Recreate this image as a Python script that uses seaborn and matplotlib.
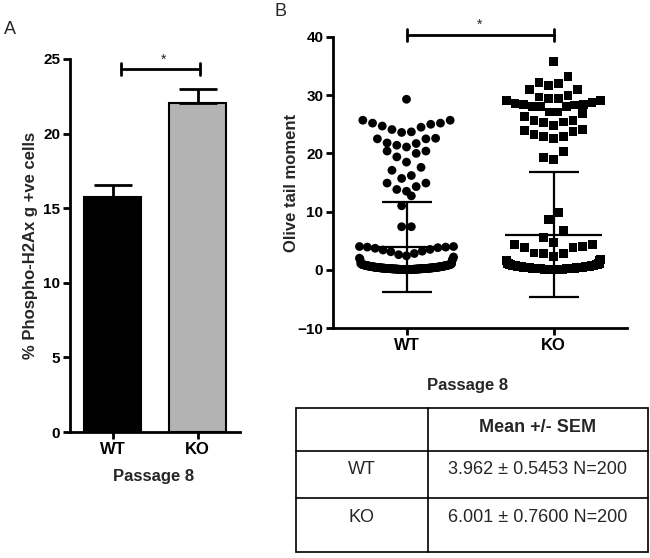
import warnings
import numpy as np
import pandas as pd
import matplotlib
matplotlib.use("Agg")
import matplotlib.pyplot as plt
import seaborn as sns

warnings.filterwarnings("ignore")

groups = ["WT", "KO"]

# panel A: % phospho-H2Ax positive cells (mean, upper error)
h2ax_mean = [15.75, 22.05]
h2ax_err = [0.78, 0.92]

# panel B: olive tail moment, individual cells
wt_high = [29.3, 25.7, 25.2, 24.7, 24.1, 23.6, 23.7, 24.5, 25.0, 25.2, 25.7,
           22.5, 21.8, 21.4, 21.1, 21.7, 22.5, 22.6, 20.4, 20.0, 18.5, 19.4,
           20.4, 17.6, 17.1, 16.2, 15.7, 14.9, 14.3, 13.5, 13.8, 14.9, 12.7,
           11.0, 7.4, 7.4]
wt_mid = [4.0, 3.9, 3.7, 3.4, 3.1, 3.2, 3.5, 3.8, 3.9, 4.0,
          2.8, 2.6, 2.4, 2.2, 2.0, 1.9, 1.8, 1.7]
wt_band = [
    0.01, 0.02, 0.02, 0.03, 0.04, 0.05, 0.05, 0.06, 0.07, 0.08, 0.08, 0.09, 0.10, 0.11, 0.12,
    0.12, 0.13, 0.14, 0.15, 0.16, 0.16, 0.17, 0.18, 0.19, 0.20, 0.21, 0.22, 0.22, 0.23, 0.24,
    0.25, 0.27, 0.28, 0.30, 0.31, 0.33, 0.34, 0.35, 0.37, 0.38, 0.40, 0.41, 0.43, 0.44, 0.46,
    0.47, 0.48, 0.50, 0.51, 0.53, 0.55, 0.56, 0.58, 0.59, 0.61, 0.62, 0.64, 0.66, 0.67, 0.69,
    0.70, 0.72, 0.74, 0.75, 0.77, 0.79, 0.81, 0.83, 0.85, 0.87, 0.89, 0.91, 0.94, 0.97, 1.00,
    0.03, 0.06, 0.09, 0.11, 0.14, 0.17, 0.19, 0.21, 0.24, 0.26, 0.29, 0.32, 0.36, 0.39, 0.42,
    0.04, 0.07, 0.10, 0.13, 0.15, 0.18, 0.20, 0.23, 0.27, 0.30, 0.34, 0.38, 0.45, 0.52, 0.60,
    0.02, 0.05, 0.08, 0.12, 0.16, 0.19, 0.22, 0.25, 0.28, 0.33, 0.40, 0.49, 0.57, 0.68, 0.80,
    0.01, 0.04, 0.07, 0.11, 0.14, 0.18, 0.21, 0.26, 0.31, 0.37, 0.44, 0.54, 0.65, 0.78, 0.92,
    0.03, 0.09, 0.15, 0.20, 0.28, 0.36, 0.47, 0.63, 0.84, 1.05, 1.10,
]
ko_high = [35.8, 33.2, 32.2, 31.7, 32.0, 31.0, 31.0, 30.0, 29.7, 29.4, 29.1,
           29.1, 29.4, 28.7, 28.4, 28.3, 28.0, 27.1, 26.8, 27.1, 28.0, 28.0,
           28.4, 28.6, 26.3, 25.6, 25.3, 24.8, 25.4, 25.6, 24.1, 23.8, 22.9,
           22.5, 22.9, 23.3, 24.0, 20.3, 19.3, 18.9]
ko_mid = [9.9, 8.7, 6.7, 5.5, 4.7, 4.4, 4.3, 4.0, 3.8, 3.8, 2.9, 2.8, 2.8,
          2.3, 1.8, 1.6, 1.6]
ko_band = [
    0.01, 0.02, 0.03, 0.04, 0.05, 0.06, 0.07, 0.08, 0.09, 0.10, 0.11, 0.12, 0.13, 0.14, 0.15,
    0.16, 0.17, 0.19, 0.20, 0.21, 0.23, 0.24, 0.25, 0.27, 0.28, 0.29, 0.31, 0.32, 0.34, 0.35,
    0.36, 0.38, 0.39, 0.41, 0.42, 0.44, 0.45, 0.47, 0.49, 0.50, 0.52, 0.54, 0.56, 0.57, 0.59,
    0.61, 0.63, 0.65, 0.67, 0.69, 0.71, 0.73, 0.76, 0.78, 0.81, 0.84, 0.87, 0.90, 0.94, 0.98,
    0.02, 0.05, 0.08, 0.11, 0.14, 0.18, 0.22, 0.26, 0.30, 0.35, 0.40, 0.46, 0.53, 0.62, 0.72,
    0.03, 0.06, 0.10, 0.13, 0.17, 0.21, 0.25, 0.30, 0.36, 0.43, 0.51, 0.60, 0.70, 0.83, 1.02,
    0.01, 0.04, 0.07, 0.12, 0.16, 0.20, 0.24, 0.29, 0.34, 0.40, 0.48, 0.58, 0.68, 0.80, 1.08,
    0.02, 0.06, 0.09, 0.13, 0.18, 0.23, 0.28, 0.33, 0.39, 0.46, 0.55, 0.66, 0.79, 0.95, 1.12,
    0.04, 0.08, 0.15, 0.22, 0.31, 0.44, 0.64, 0.88,
    0.03, 0.07, 0.11, 0.15, 0.19, 0.26, 0.33, 0.41, 0.50, 0.61, 0.74, 0.86, 0.97, 1.06, 1.15,
]

# summary table
tail_mean = [3.962, 6.001]
tail_sem = [0.5453, 0.7600]
tail_n = [200, 200]


def row_offsets(values, bin_h=2.2, step=0.066, half=0.32):
    # Prism-like scatter layout: points of similar value share a row,
    # lowest in the middle, spread outward, squeezed when the row is full
    vals = np.asarray(values, float)
    order = np.argsort(vals, kind="stable")
    offs = np.zeros(len(vals))
    i = 0
    while i < len(order):
        start = vals[order[i]]
        j = i
        while j < len(order) and vals[order[j]] < start + bin_h:
            j += 1
        idx = order[i:j]
        n = len(idx)
        st = min(step, 2 * half / (n - 1)) if n > 1 else 0
        slots = (np.arange(n) - (n - 1) / 2) * st
        slots = slots[np.argsort(np.abs(slots), kind="stable")]
        offs[idx] = slots
        i = j
    return offs


sns.set_theme(style="ticks")
plt.rcParams["font.family"] = ["Liberation Sans", "DejaVu Sans"]
plt.rcParams["font.weight"] = "bold"
plt.rcParams["axes.labelweight"] = "bold"

fig = plt.figure(figsize=(6.5, 5.58), dpi=100)
W, H = 650, 558


def style_axis(ax):
    sns.despine(ax=ax)
    for s in ["left", "bottom"]:
        ax.spines[s].set_linewidth(2)
        ax.spines[s].set_color("black")
    ax.tick_params(length=5, width=2, labelsize=11, colors="black", pad=2)
    for lab in ax.get_xticklabels():
        lab.set_fontsize(12)


# ---------------- panel A ----------------
axA = fig.add_axes([70 / W, 1 - 432 / H, 170 / W, 373 / H])
sns.barplot(x=groups, y=h2ax_mean, hue=groups, palette=["black", "#b3b3b3"],
            legend=False, width=0.68, edgecolor="black", linewidth=1.5, ax=axA)
axA.errorbar(groups, h2ax_mean, yerr=[[0, 0], h2ax_err], fmt="none",
             ecolor="black", elinewidth=2, capsize=14, capthick=2)
axA.set_xlim(-0.5, 1.5)
axA.set_ylim(0, 25)
axA.set_yticks([0, 5, 10, 15, 20, 25])
axA.set_ylabel("% Phospho-H2Ax g +ve cells", fontsize=12)
axA.yaxis.set_label_coords(-0.19, 0.5)
style_axis(axA)
axA.text(0.49, -0.118, "Passage 8", transform=axA.transAxes, ha="center",
         va="center", fontsize=12)
axA.plot([0.1, 1.03], [24.3, 24.3], color="black", lw=2, clip_on=False)
axA.plot([0.1, 0.1], [23.9, 24.7], color="black", lw=2, clip_on=False)
axA.plot([1.03, 1.03], [23.9, 24.7], color="black", lw=2, clip_on=False)
axA.text(0.6, 24.95, "*", ha="center", va="center", fontsize=10,
         fontweight="normal")

# ---------------- panel B ----------------
axB = fig.add_axes([333 / W, 1 - 328 / H, 294 / W, 291 / H])
wt_vals = wt_high + wt_mid + wt_band
ko_vals = ko_high + ko_mid + ko_band
df = pd.DataFrame({"group": ["WT"] * len(wt_vals) + ["KO"] * len(ko_vals),
                   "value": wt_vals + ko_vals})
df["pos"] = df["group"].map({g: i for i, g in enumerate(groups)}).astype(float)
for g in groups:
    m = df["group"] == g
    df.loc[m, "pos"] += row_offsets(df.loc[m, "value"])
sns.scatterplot(data=df, x="pos", y="value", style="group",
                markers={"WT": "o", "KO": "s"}, color="black", s=40,
                linewidth=0, legend=False, ax=axB)
tail_sd = [s * np.sqrt(n) for s, n in zip(tail_sem, tail_n)]
xpos = np.arange(len(groups))
axB.hlines(tail_mean, xpos - 0.33, xpos + 0.33, color="black", lw=1.6, zorder=5)
axB.errorbar(xpos, tail_mean, yerr=tail_sd, fmt="none", ecolor="black",
             elinewidth=1.6, capsize=18, capthick=1.6, zorder=5)
axB.set_xlim(-0.5, 1.5)
axB.set_ylim(-10, 40)
axB.set_xticks(xpos)
axB.set_xticklabels(groups)
axB.set_yticks([-10, 0, 10, 20, 30, 40])
axB.set_xlabel("")
axB.set_ylabel("Olive tail moment", fontsize=12)
axB.yaxis.set_label_coords(-0.115, 0.5)
style_axis(axB)
axB.text(0.456, -0.196, "Passage 8", transform=axB.transAxes, ha="center",
         va="center", fontsize=12)
axB.plot([0, 1], [40.3, 40.3], color="black", lw=2, clip_on=False)
axB.plot([0, 0], [39.3, 41.4], color="black", lw=2, clip_on=False)
axB.plot([1, 1], [39.3, 41.4], color="black", lw=2, clip_on=False)
axB.text(0.5, 42.1, "*", ha="center", va="center", fontsize=10,
         fontweight="normal", clip_on=False)

# ---------------- table ----------------
axT = fig.add_axes([296 / W, 1 - 552 / H, 352 / W, 144 / H])
axT.set_xlim(0, 1)
axT.set_ylim(1, 0)
axT.axis("off")
col_split = 132 / 352
row_edges = [0, 43 / 144, 90 / 144, 1]
for y in row_edges:
    axT.plot([0, 1], [y, y], color="black", lw=1.2, clip_on=False)
for x in [0, col_split, 1]:
    axT.plot([x, x], [0, 1], color="black", lw=1.2, clip_on=False)
axT.text((1 + col_split) / 2, 0.132, "Mean +/- SEM", ha="center", va="center",
         fontsize=13, fontweight="bold")
row_text_y = [0.43, 0.757]
for g, m, s, n, ty in zip(groups, tail_mean, tail_sem, tail_n, row_text_y):
    axT.text(col_split / 2, ty, g, ha="center", va="center", fontsize=13,
             fontweight="normal")
    axT.text((1 + col_split) / 2, ty, f"{m:.3f} \u00b1 {s:.4f} N={n}",
             ha="center", va="center", fontsize=13, fontweight="normal")

# panel letters
fig.text(10 / W, 1 - 29 / H, "A", ha="center", va="center", fontsize=13,
         fontweight="normal")
fig.text(281 / W, 1 - 12 / H, "B", ha="center", va="center", fontsize=13,
         fontweight="normal")

fig.savefig("out.png", dpi=100)
